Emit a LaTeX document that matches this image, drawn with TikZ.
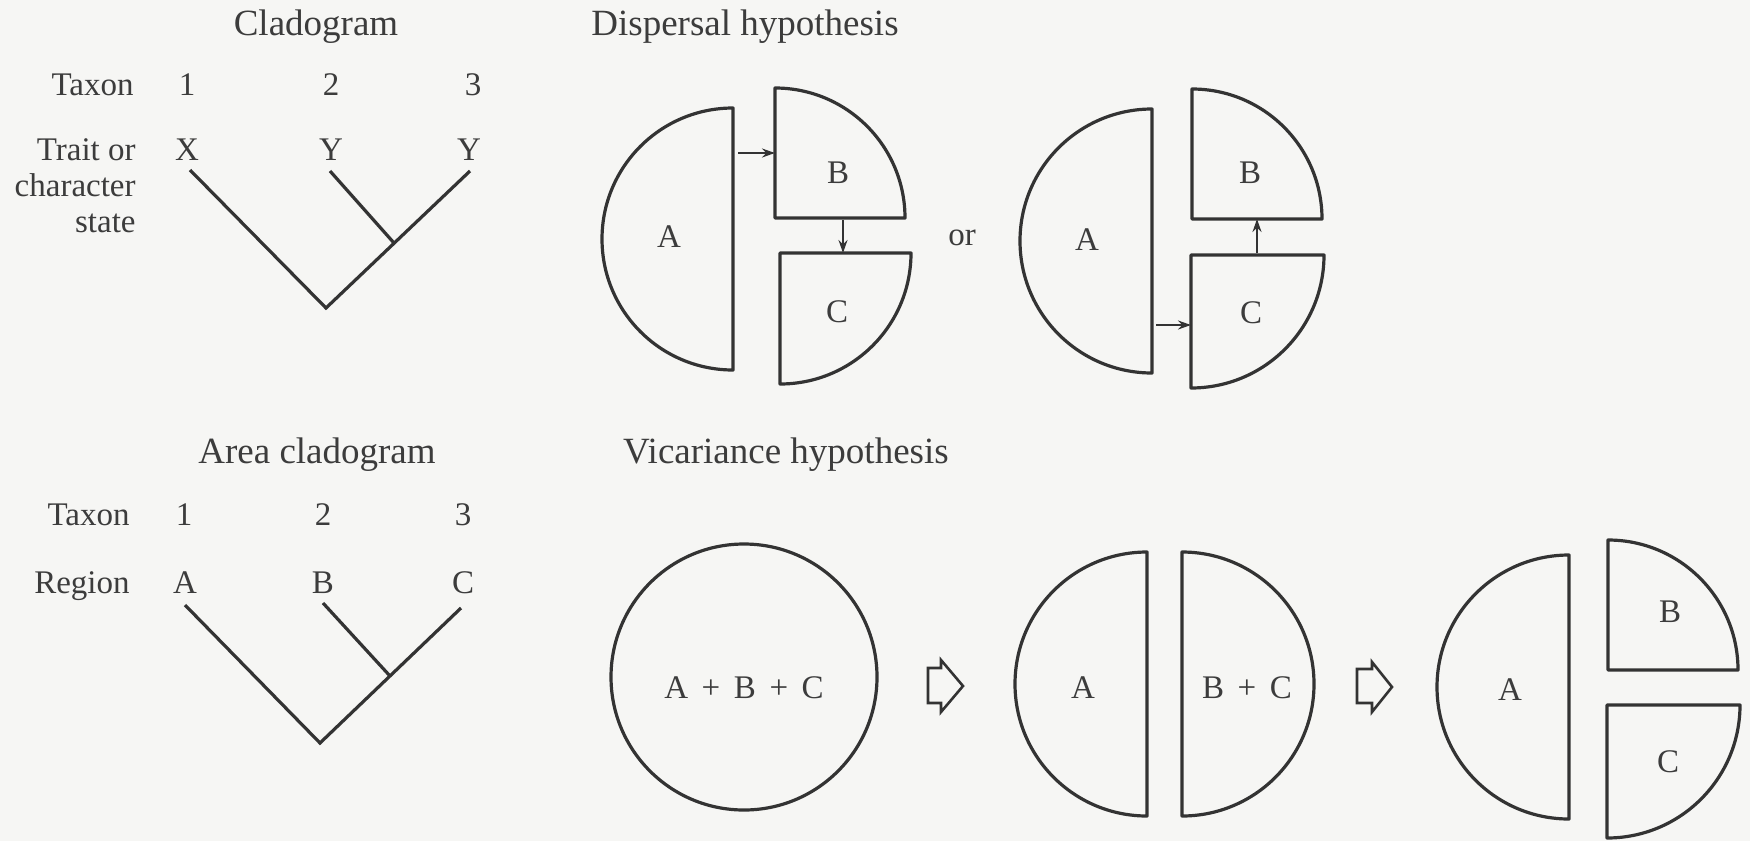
\documentclass[tikz,border=0pt]{standalone}
\usepackage{fontspec}
\setmainfont{Liberation Serif}
\usetikzlibrary{arrows.meta}
\definecolor{ink}{HTML}{333333}
\definecolor{txt}{HTML}{3C3C3C}
\definecolor{paper}{HTML}{F6F6F4}
\newcommand{\plussp}{\hspace{6.8pt}+\hspace{6.8pt}}
\begin{document}
\begin{tikzpicture}[x=0.5pt,y=0.5pt,
  region/.style={draw=ink,line width=1.6pt,line join=round},
  branch/.style={draw=ink,line width=1.6pt},
  lbl/.style={text=txt,font=\fontsize{16.5}{18}\selectfont,inner sep=0pt},
  ttl/.style={text=txt,font=\fontsize{18.5}{20}\selectfont,inner sep=0pt,anchor=base},
  disp/.style={draw=ink,line width=1pt,-{Stealth[length=6.5pt,width=4.5pt]}},
  hollow/.style={draw=ink,line width=1.3pt,line join=miter}
]
\fill[paper] (0,0) rectangle (1750,-841);
\useasboundingbox (0,0) rectangle (1750,-841);

% ---------- Titles ----------
\node[ttl] (t1) at (316,-35) {Cladogram};
\node[ttl] (t2) at (745,-35) {Dispersal hypothesis};
\node[ttl] (t3) at (317,-463) {Area cladogram};
\node[ttl] (t4) at (786,-463) {Vicariance hypothesis};

% ---------- Cladogram ----------
\node[lbl,anchor=base east] (tx1) at (134,-95) {Taxon};
\node[lbl,anchor=base east] (tr1) at (136,-160) {Trait or};
\node[lbl,anchor=base east] (tr2) at (136,-196) {character};
\node[lbl,anchor=base east] (tr3) at (136,-232) {state};
\node[lbl,anchor=base] (n1) at (187,-95) {1};
\node[lbl,anchor=base] (n2) at (331,-95) {2};
\node[lbl,anchor=base] (n3) at (473,-95) {3};
\node[lbl,anchor=base] (s1) at (187,-160) {X};
\node[lbl,anchor=base] (s2) at (331,-160) {Y};
\node[lbl,anchor=base] (s3) at (469,-160) {Y};
\coordinate (c1) at (190,-170);
\coordinate (c2) at (330,-171);
\coordinate (c3) at (470,-171);
\coordinate (croot) at (326,-308);
\coordinate (cj) at (394,-243);
\draw[branch] (c1) -- (croot) -- (c3);
\draw[branch] (c2) -- (cj);

% ---------- Area cladogram ----------
\node[lbl,anchor=base east] (tx2) at (130,-525) {Taxon};
\node[lbl,anchor=base east] (rg) at (130,-593) {Region};
\node[lbl,anchor=base] (m1) at (184,-525) {1};
\node[lbl,anchor=base] (m2) at (323,-525) {2};
\node[lbl,anchor=base] (m3) at (463,-525) {3};
\node[lbl,anchor=base] (r1) at (185,-593) {A};
\node[lbl,anchor=base] (r2) at (323,-593) {B};
\node[lbl,anchor=base] (r3) at (463,-593) {C};
\coordinate (a1) at (185,-605);
\coordinate (a2) at (323,-603);
\coordinate (a3) at (461,-608);
\coordinate (aroot) at (320,-743);
\coordinate (aj) at (390,-676);
\draw[branch] (a1) -- (aroot) -- (a3);
\draw[branch] (a2) -- (aj);

% ---------- Dispersal 1 ----------
\draw[region] (733,-108) arc[start angle=90,end angle=270,radius=65.5pt] -- cycle;
\draw[region] (775,-218) -- (775,-88) arc[start angle=90,end angle=0,radius=65pt] -- cycle;
\draw[region] (780,-253) -- (911,-253) arc[start angle=0,end angle=-90,radius=65.5pt] -- cycle;
\node[lbl] (dA1) at (669,-237) {A};
\node[lbl] (dB1) at (838,-173) {B};
\node[lbl] (dC1) at (837,-312) {C};
\coordinate (e1s) at (738,-153);
\coordinate (e1t) at (775,-153);
\coordinate (e2s) at (843,-220);
\coordinate (e2t) at (843,-253);
\draw[disp] (e1s) -- (e1t);
\draw[disp] (e2s) -- (e2t);

\node[lbl] (or) at (962,-238) {or};

% ---------- Dispersal 2 ----------
\draw[region] (1152,-109) arc[start angle=90,end angle=270,radius=66pt] -- cycle;
\draw[region] (1192,-219) -- (1192,-89) arc[start angle=90,end angle=0,radius=65pt] -- cycle;
\draw[region] (1191,-255) -- (1324,-255) arc[start angle=0,end angle=-90,radius=66.5pt] -- cycle;
\node[lbl] (dA2) at (1087,-240) {A};
\node[lbl] (dB2) at (1250,-173) {B};
\node[lbl] (dC2) at (1251,-313) {C};
\coordinate (f1s) at (1257,-253);
\coordinate (f1t) at (1257,-219);
\coordinate (f2s) at (1156,-325);
\coordinate (f2t) at (1191,-325);
\draw[disp] (f1s) -- (f1t);
\draw[disp] (f2s) -- (f2t);

% ---------- Vicariance ----------
\draw[region] (744,-677) circle[radius=66.5pt];
\node[lbl] (abc) at (744,-688) {A\plussp B\plussp C};

\draw[hollow] (928,-668) -- (941,-668) -- (941,-660) -- (963,-686) -- (941,-712) -- (941,-703) -- (928,-703) -- cycle;

\draw[region] (1147,-552) arc[start angle=90,end angle=270,radius=66pt] -- cycle;
\draw[region] (1182,-552) arc[start angle=90,end angle=-90,radius=66pt] -- cycle;
\node[lbl] (vA1) at (1083,-688) {A};
\node[lbl] (vBC) at (1247,-688) {B\plussp C};

\draw[hollow] (1357,-669) -- (1372,-669) -- (1372,-662) -- (1392,-687) -- (1372,-712) -- (1372,-703) -- (1357,-703) -- cycle;

\draw[region] (1569,-555) arc[start angle=90,end angle=270,radius=66pt] -- cycle;
\draw[region] (1608,-670) -- (1608,-540) arc[start angle=90,end angle=0,radius=65pt] -- cycle;
\draw[region] (1607,-705) -- (1740,-705) arc[start angle=0,end angle=-90,radius=66.5pt] -- cycle;
\node[lbl] (vA2) at (1510,-690) {A};
\node[lbl] (vB) at (1670,-612) {B};
\node[lbl] (vC) at (1668,-762) {C};
\end{tikzpicture}
\end{document}
